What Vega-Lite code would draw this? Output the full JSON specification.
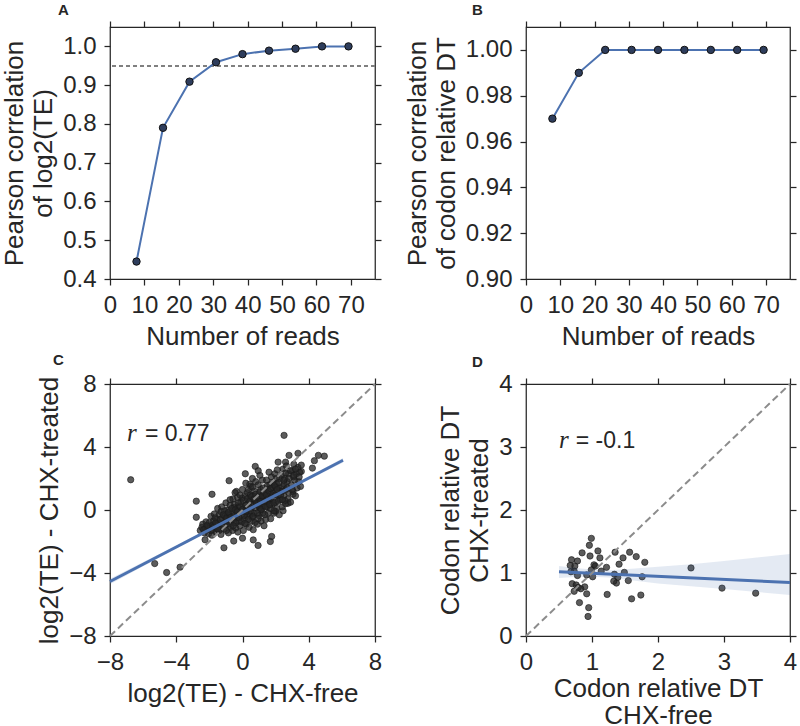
{
  "$schema": "https://vega.github.io/schema/vega-lite/v6.json",
  "background": "white",
  "padding": {"left": 1, "top": 2, "right": 2, "bottom": 0},
  "columns": 2,
  "spacing": {"row": 2, "column": 20},
  "config": {
    "font": "Liberation Sans",
    "view": {"stroke": "#262626", "strokeWidth": 1.25},
    "axis": {
      "grid": false, "domain": false,
      "tickSize": 6, "tickColor": "#262626", "tickWidth": 1.25,
      "labelFontSize": 24, "labelColor": "#262626", "labelFont": "Liberation Sans",
      "labelPadding": 8, "labelFlush": false, "labelOverlap": false, "labelBound": false,
      "titleFontSize": 26, "titleColor": "#262626", "titleFont": "Liberation Sans",
      "titleFontWeight": "normal", "titlePadding": 6, "titleLineHeight": 29
    },
    "title": {"fontSize": 15, "fontWeight": "bold", "anchor": "start", "frame": "group", "color": "#262626", "offset": 2, "font": "Liberation Sans"}
  },
  "datasets": {
    "a": [
      {"n": 7.7, "r": 0.445}, {"n": 15.4, "r": 0.79}, {"n": 23.1, "r": 0.909}, {"n": 30.8, "r": 0.959},
      {"n": 38.5, "r": 0.98}, {"n": 46.2, "r": 0.989}, {"n": 53.9, "r": 0.994}, {"n": 61.6, "r": 1.0}, {"n": 69.3, "r": 1.0}
    ],
    "b": [
      {"n": 7.7, "r": 0.97}, {"n": 15.4, "r": 0.99}, {"n": 23.1, "r": 1.0}, {"n": 30.8, "r": 1.0},
      {"n": 38.5, "r": 1.0}, {"n": 46.2, "r": 1.0}, {"n": 53.9, "r": 1.0}, {"n": 61.6, "r": 1.0}, {"n": 69.3, "r": 1.0}
    ],
    "c": [
      {"x": -6.75, "y": 1.92}, {"x": -5.3, "y": -3.4}, {"x": -4.58, "y": -3.97}, {"x": -3.77, "y": -3.63}, {"x": 2.51, "y": 4.74},
      {"x": -2.79, "y": 0.56}, {"x": -2.79, "y": -0.46}, {"x": -1.84, "y": 1.0}, {"x": -0.81, "y": 1.86}, {"x": -0.37, "y": 1.18},
      {"x": 0.17, "y": 2.3}, {"x": 0.77, "y": 2.77}, {"x": 0.95, "y": 2.49}, {"x": 0.44, "y": 1.64}, {"x": 2.75, "y": 0.43},
      {"x": -1.12, "y": -2.4}, {"x": 0.94, "y": -2.25}, {"x": 1.68, "y": -2.0}, {"x": 0.65, "y": -1.9}, {"x": -0.53, "y": -1.97},
      {"x": 0.0, "y": -1.79}, {"x": 1.76, "y": -1.68}, {"x": -2.26, "y": -1.89}, {"x": 4.34, "y": 3.13}, {"x": 4.58, "y": 3.47},
      {"x": 4.94, "y": 3.42}, {"x": 4.22, "y": 2.66}, {"x": 3.35, "y": 3.6}, {"x": 2.81, "y": 3.47}, {"x": 2.15, "y": 3.04},
      {"x": 2.6, "y": 3.04}, {"x": 3.55, "y": 2.45}, {"x": 3.05, "y": 1.18}, {"x": 2.45, "y": -0.05}, {"x": 2.0, "y": -0.09},
      {"x": -2.55, "y": -1.3}, {"x": -2.4, "y": -0.9}, {"x": -2.3, "y": -1.45}, {"x": -2.2, "y": -0.75}, {"x": -2.45, "y": -1.1}, {"x": -2.25, "y": -1.2},
      {"x": -2.05, "y": -1.5}, {"x": -1.95, "y": -1.0}, {"x": -1.9, "y": -0.4}, {"x": -1.8, "y": -1.25}, {"x": -1.75, "y": -0.7},
      {"x": -2.0, "y": -0.8}, {"x": -1.85, "y": -1.6}, {"x": -1.7, "y": -0.25}, {"x": -2.1, "y": -1.15}, {"x": -1.78, "y": -0.95},
      {"x": -1.6, "y": -1.4}, {"x": -1.55, "y": -0.6}, {"x": -1.5, "y": 0.1}, {"x": -1.45, "y": -1.1}, {"x": -1.4, "y": -0.3},
      {"x": -1.35, "y": -0.85}, {"x": -1.3, "y": -1.55}, {"x": -1.25, "y": 0.2}, {"x": -1.5, "y": -0.95}, {"x": -1.22, "y": -0.5},
      {"x": -1.42, "y": -1.3}, {"x": -1.3, "y": -0.1},
      {"x": -1.1, "y": -1.2}, {"x": -1.05, "y": -0.4}, {"x": -1.0, "y": 0.45}, {"x": -0.95, "y": -0.9}, {"x": -0.9, "y": 0.0},
      {"x": -0.85, "y": -1.45}, {"x": -0.8, "y": -0.6}, {"x": -0.75, "y": 0.3}, {"x": -0.72, "y": -1.1}, {"x": -1.08, "y": -0.05},
      {"x": -0.92, "y": -0.25}, {"x": -0.78, "y": -0.35}, {"x": -0.98, "y": -1.3},
      {"x": -0.6, "y": -1.3}, {"x": -0.58, "y": 0.7}, {"x": -0.55, "y": -0.2}, {"x": -0.5, "y": -0.8}, {"x": -0.48, "y": 0.35},
      {"x": -0.45, "y": 1.1}, {"x": -0.4, "y": -1.15}, {"x": -0.38, "y": 0.0}, {"x": -0.35, "y": -0.5}, {"x": -0.3, "y": 0.8},
      {"x": -0.28, "y": -1.4}, {"x": -0.25, "y": 0.2}, {"x": -0.22, "y": -0.7}, {"x": -0.52, "y": 0.15}, {"x": -0.33, "y": -0.25},
      {"x": -0.15, "y": -1.0}, {"x": -0.1, "y": 0.5}, {"x": -0.05, "y": -0.3}, {"x": 0.0, "y": 1.3}, {"x": 0.05, "y": -1.3},
      {"x": 0.08, "y": 0.1}, {"x": 0.12, "y": -0.6}, {"x": 0.15, "y": 0.9}, {"x": 0.18, "y": -0.15}, {"x": 0.2, "y": 1.7},
      {"x": 0.22, "y": -0.9}, {"x": 0.25, "y": 0.35}, {"x": 0.28, "y": -0.4}, {"x": 0.3, "y": 1.1}, {"x": -0.02, "y": 0.75}, {"x": 0.1, "y": -0.05},
      {"x": 0.4, "y": -1.1}, {"x": 0.42, "y": 0.6}, {"x": 0.45, "y": -0.3}, {"x": 0.5, "y": 1.5}, {"x": 0.52, "y": 0.1},
      {"x": 0.55, "y": -0.7}, {"x": 0.6, "y": 2.0}, {"x": 0.62, "y": 0.9}, {"x": 0.65, "y": -1.25}, {"x": 0.68, "y": 0.3},
      {"x": 0.7, "y": -0.2}, {"x": 0.72, "y": 1.2}, {"x": 0.75, "y": -0.8}, {"x": 0.78, "y": 0.55}, {"x": 0.8, "y": 1.8},
      {"x": 0.58, "y": -0.45}, {"x": 0.48, "y": 0.95},
      {"x": 0.9, "y": -0.9}, {"x": 0.92, "y": 0.4}, {"x": 0.95, "y": 1.6}, {"x": 0.98, "y": -0.35}, {"x": 1.0, "y": 0.9},
      {"x": 1.05, "y": 2.2}, {"x": 1.08, "y": 0.0}, {"x": 1.1, "y": 1.3}, {"x": 1.12, "y": -0.7}, {"x": 1.15, "y": 0.6},
      {"x": 1.2, "y": 1.9}, {"x": 1.22, "y": -0.2}, {"x": 1.25, "y": 1.0}, {"x": 1.28, "y": 0.25}, {"x": 1.3, "y": -1.0},
      {"x": 1.02, "y": 0.15}, {"x": 1.18, "y": 0.75},
      {"x": 1.4, "y": -0.6}, {"x": 1.42, "y": 0.8}, {"x": 1.45, "y": 1.9}, {"x": 1.5, "y": 0.2}, {"x": 1.52, "y": 1.3},
      {"x": 1.55, "y": -0.2}, {"x": 1.6, "y": 2.4}, {"x": 1.62, "y": 0.6}, {"x": 1.65, "y": 1.6}, {"x": 1.7, "y": -0.55},
      {"x": 1.72, "y": 1.0}, {"x": 1.75, "y": 2.1}, {"x": 1.78, "y": 0.35}, {"x": 1.8, "y": 1.45}, {"x": 1.48, "y": 0.55}, {"x": 1.68, "y": 0.1},
      {"x": 1.9, "y": -0.2}, {"x": 1.92, "y": 1.1}, {"x": 1.95, "y": 2.3}, {"x": 2.0, "y": 0.5}, {"x": 2.05, "y": 1.7},
      {"x": 2.08, "y": 0.1}, {"x": 2.1, "y": 2.55}, {"x": 2.15, "y": 0.9}, {"x": 2.2, "y": 1.4}, {"x": 2.22, "y": -0.3},
      {"x": 2.25, "y": 2.0}, {"x": 2.28, "y": 0.65}, {"x": 2.3, "y": 1.2}, {"x": 1.98, "y": 1.45},
      {"x": 2.4, "y": 0.2}, {"x": 2.42, "y": 1.5}, {"x": 2.45, "y": 2.6}, {"x": 2.5, "y": 0.9}, {"x": 2.55, "y": 2.0},
      {"x": 2.6, "y": 0.4}, {"x": 2.62, "y": 1.3}, {"x": 2.65, "y": 2.8}, {"x": 2.7, "y": 1.8}, {"x": 2.75, "y": 0.7},
      {"x": 2.78, "y": 2.3}, {"x": 2.8, "y": 1.1}, {"x": 2.52, "y": 1.65},
      {"x": 2.9, "y": 0.5}, {"x": 2.95, "y": 1.6}, {"x": 3.0, "y": 2.5}, {"x": 3.05, "y": 1.0}, {"x": 3.1, "y": 2.9},
      {"x": 3.15, "y": 1.9}, {"x": 3.2, "y": 0.9}, {"x": 3.25, "y": 2.3}, {"x": 3.3, "y": 1.4}, {"x": 3.08, "y": 2.1},
      {"x": 3.35, "y": 2.7}, {"x": 3.4, "y": 1.8}, {"x": 3.45, "y": 2.4}, {"x": 3.5, "y": 1.5}, {"x": 3.55, "y": 2.85}, {"x": 3.42, "y": 2.1},
      {"x": -1.9, "y": -1.3}, {"x": -1.7, "y": -1.05}, {"x": -1.6, "y": -0.8}, {"x": -1.5, "y": -1.2}, {"x": -1.35, "y": -0.6},
      {"x": -1.2, "y": -0.9}, {"x": -1.15, "y": -0.3}, {"x": -1.0, "y": -0.75}, {"x": -0.95, "y": -0.5}, {"x": -0.85, "y": -0.15},
      {"x": -0.8, "y": -0.9}, {"x": -0.7, "y": -0.45}, {"x": -0.65, "y": 0.1}, {"x": -0.6, "y": -0.6}, {"x": -0.5, "y": -0.35},
      {"x": -0.45, "y": 0.0}, {"x": -0.4, "y": -0.8}, {"x": -0.3, "y": -0.1}, {"x": -0.25, "y": 0.45}, {"x": -0.2, "y": -0.5},
      {"x": -0.12, "y": 0.2}, {"x": -0.05, "y": -0.75}, {"x": 0.0, "y": 0.05}, {"x": 0.05, "y": 0.6}, {"x": 0.1, "y": -0.35},
      {"x": 0.2, "y": 0.3}, {"x": 0.25, "y": -0.1}, {"x": 0.3, "y": 0.7}, {"x": 0.35, "y": -0.6}, {"x": 0.4, "y": 0.2},
      {"x": 0.45, "y": 0.55}, {"x": 0.5, "y": -0.05}, {"x": 0.55, "y": 0.85}, {"x": 0.6, "y": 0.35}, {"x": 0.65, "y": -0.4},
      {"x": 0.7, "y": 0.7}, {"x": 0.75, "y": 0.15}, {"x": 0.8, "y": 1.0}, {"x": 0.85, "y": 0.45}, {"x": 0.9, "y": -0.2},
      {"x": 0.95, "y": 0.8}, {"x": 1.0, "y": 0.3}, {"x": 1.05, "y": 1.15}, {"x": 1.1, "y": 0.55}, {"x": 1.15, "y": 0.05},
      {"x": 1.2, "y": 0.9}, {"x": 1.25, "y": 1.4}, {"x": 1.3, "y": 0.5}, {"x": 1.35, "y": 1.1}, {"x": 1.4, "y": 0.2},
      {"x": 1.45, "y": 0.95}, {"x": 1.5, "y": 1.55}, {"x": 1.55, "y": 0.7}, {"x": 1.6, "y": 1.2}, {"x": 1.65, "y": 0.35},
      {"x": 1.7, "y": 1.35}, {"x": 1.75, "y": 0.8}, {"x": 1.8, "y": 1.75}, {"x": 1.85, "y": 1.05}, {"x": 1.9, "y": 0.45},
      {"x": 1.95, "y": 1.55}, {"x": 2.0, "y": 0.95}, {"x": 2.05, "y": 2.0}, {"x": 2.1, "y": 1.3}, {"x": 2.15, "y": 0.55},
      {"x": 2.2, "y": 1.75}, {"x": 2.3, "y": 0.95}, {"x": 2.35, "y": 2.2}, {"x": 2.4, "y": 1.2}, {"x": 2.5, "y": 1.9},
      {"x": 2.55, "y": 0.6}, {"x": 2.6, "y": 2.35}, {"x": 2.7, "y": 1.4}, {"x": 2.8, "y": 2.0}, {"x": 2.9, "y": 2.5},
      {"x": 3.0, "y": 1.3}, {"x": 3.1, "y": 2.2}, {"x": 3.2, "y": 2.6}, {"x": -2.15, "y": -1.0}, {"x": -2.35, "y": -1.25},
      {"x": -1.65, "y": -0.5}, {"x": -0.55, "y": -1.0}, {"x": 0.15, "y": -0.85}, {"x": 0.35, "y": 1.3}, {"x": 0.95, "y": -0.55},
      {"x": 1.35, "y": -0.3}, {"x": 1.9, "y": -0.05}, {"x": 2.4, "y": 0.65}, {"x": 0.6, "y": 1.45}, {"x": -0.15, "y": 0.95},
      {"x": -0.75, "y": 0.65}
    ],
    "cline": [{"x": -8, "y": -4.54}, {"x": 6.07, "y": 3.16}],
    "cband": [
      {"x": -8, "lo": -4.72, "hi": -4.36}, {"x": -4, "lo": -2.43, "hi": -2.25}, {"x": 0, "lo": -0.22, "hi": -0.1},
      {"x": 3, "lo": 1.4, "hi": 1.54}, {"x": 6.07, "lo": 3.02, "hi": 3.3}
    ],
    "diagc": [{"x": -8, "y": -8}, {"x": 8, "y": 8}],
    "d": [
      {"x": 0.99, "y": 1.55}, {"x": 0.96, "y": 1.44}, {"x": 0.85, "y": 1.32}, {"x": 0.97, "y": 1.27}, {"x": 1.09, "y": 1.35},
      {"x": 1.12, "y": 1.24}, {"x": 1.35, "y": 1.33}, {"x": 1.57, "y": 1.33}, {"x": 1.67, "y": 1.26}, {"x": 1.47, "y": 1.24},
      {"x": 1.41, "y": 1.14}, {"x": 1.8, "y": 1.17}, {"x": 0.69, "y": 1.21}, {"x": 0.78, "y": 1.19}, {"x": 0.74, "y": 1.11},
      {"x": 0.67, "y": 1.12}, {"x": 1.03, "y": 1.13}, {"x": 1.05, "y": 1.11}, {"x": 1.22, "y": 1.09}, {"x": 1.14, "y": 1.03},
      {"x": 0.99, "y": 1.05}, {"x": 0.73, "y": 1.03}, {"x": 0.68, "y": 1.02}, {"x": 0.78, "y": 0.96}, {"x": 0.92, "y": 0.97},
      {"x": 1.01, "y": 0.94}, {"x": 1.34, "y": 0.98}, {"x": 1.49, "y": 1.01}, {"x": 1.39, "y": 0.93}, {"x": 1.37, "y": 0.84},
      {"x": 1.33, "y": 0.87}, {"x": 1.55, "y": 0.88}, {"x": 1.76, "y": 0.94}, {"x": 0.7, "y": 0.83}, {"x": 0.76, "y": 0.81},
      {"x": 0.89, "y": 0.78}, {"x": 0.79, "y": 0.77}, {"x": 0.83, "y": 0.75}, {"x": 0.73, "y": 0.71}, {"x": 0.92, "y": 0.67},
      {"x": 1.23, "y": 0.66}, {"x": 1.6, "y": 0.59}, {"x": 1.74, "y": 0.65}, {"x": 0.81, "y": 0.53}, {"x": 0.95, "y": 0.45},
      {"x": 0.94, "y": 0.31}, {"x": 2.5, "y": 1.08}, {"x": 2.97, "y": 0.76}, {"x": 3.48, "y": 0.68}
    ],
    "dline": [{"x": 0.5, "y": 1.02}, {"x": 4.0, "y": 0.85}],
    "dband": [
      {"x": 0.5, "lo": 0.92, "hi": 1.11}, {"x": 0.75, "lo": 0.935, "hi": 1.08}, {"x": 1.0, "lo": 0.94, "hi": 1.055},
      {"x": 1.25, "lo": 0.93, "hi": 1.045}, {"x": 1.5, "lo": 0.895, "hi": 1.06}, {"x": 2.0, "lo": 0.835, "hi": 1.1},
      {"x": 2.5, "lo": 0.79, "hi": 1.14}, {"x": 3.0, "lo": 0.745, "hi": 1.19}, {"x": 3.5, "lo": 0.7, "hi": 1.245},
      {"x": 4.0, "lo": 0.65, "hi": 1.3}
    ],
    "diagd": [{"x": 0, "y": 0}, {"x": 4, "y": 4}]
  },
  "concat": [
    {
      "title": {"text": "A", "dx": -52},
      "width": 265, "height": 252,
      "resolve": {"axis": {"x": "independent", "y": "independent"}},
      "layer": [
        {
          "data": {"name": "a"},
          "mark": {"type": "rule", "color": "#808080", "strokeDash": [4, 3], "strokeWidth": 1.4},
          "encoding": {"y": {"datum": 0.95, "type": "quantitative", "axis": null}}
        },
        {
          "data": {"name": "a"},
          "mark": {"type": "line", "color": "#4C72B0", "strokeWidth": 2},
          "encoding": {
            "x": {"field": "n", "type": "quantitative", "scale": {"domain": [0, 77], "nice": false, "zero": false},
                  "axis": {"orient": "top", "labels": false, "title": null, "values": [0, 10, 20, 30, 40, 50, 60, 70]}},
            "y": {"field": "r", "type": "quantitative", "scale": {"domain": [0.4, 1.05], "nice": false, "zero": false},
                  "axis": {"orient": "right", "labels": false, "title": null, "values": [0.4, 0.5, 0.6, 0.7, 0.8, 0.9, 1.0]}}
          }
        },
        {
          "data": {"name": "a"},
          "mark": {"type": "circle", "size": 55, "fill": "#2e3d5c", "stroke": "#111111", "strokeWidth": 1, "opacity": 1},
          "encoding": {
            "x": {"field": "n", "type": "quantitative", "axis": {"orient": "bottom", "title": "Number of reads", "values": [0, 10, 20, 30, 40, 50, 60, 70]}},
            "y": {"field": "r", "type": "quantitative", "axis": {"orient": "left", "title": ["Pearson correlation", "of log2(TE)"], "values": [0.4, 0.5, 0.6, 0.7, 0.8, 0.9, 1.0], "format": ".1f"}}
          }
        }
      ]
    },
    {
      "title": {"text": "B", "dx": -54},
      "width": 264, "height": 252,
      "resolve": {"axis": {"x": "independent", "y": "independent"}},
      "layer": [
        {
          "data": {"name": "b"},
          "mark": {"type": "line", "color": "#4C72B0", "strokeWidth": 2},
          "encoding": {
            "x": {"field": "n", "type": "quantitative", "scale": {"domain": [0, 77], "nice": false, "zero": false},
                  "axis": {"orient": "top", "labels": false, "title": null, "values": [0, 10, 20, 30, 40, 50, 60, 70]}},
            "y": {"field": "r", "type": "quantitative", "scale": {"domain": [0.9, 1.01], "nice": false, "zero": false},
                  "axis": {"orient": "right", "labels": false, "title": null, "values": [0.9, 0.92, 0.94, 0.96, 0.98, 1.0]}}
          }
        },
        {
          "data": {"name": "b"},
          "mark": {"type": "circle", "size": 55, "fill": "#2e3d5c", "stroke": "#111111", "strokeWidth": 1, "opacity": 1},
          "encoding": {
            "x": {"field": "n", "type": "quantitative", "axis": {"orient": "bottom", "title": "Number of reads", "values": [0, 10, 20, 30, 40, 50, 60, 70]}},
            "y": {"field": "r", "type": "quantitative", "axis": {"orient": "left", "title": ["Pearson correlation", "of codon relative DT"], "values": [0.9, 0.92, 0.94, 0.96, 0.98, 1.0], "format": ".2f"}}
          }
        }
      ]
    },
    {
      "title": {"text": "C", "dx": -57, "offset": 4},
      "width": 265, "height": 252,
      "resolve": {"axis": {"x": "independent", "y": "independent"}},
      "layer": [
        {
          "data": {"name": "c"},
          "mark": {"type": "circle", "size": 40, "fill": "#262626", "fillOpacity": 0.75, "stroke": "#1a1a1a", "strokeOpacity": 0.8, "strokeWidth": 0.8},
          "encoding": {
            "x": {"field": "x", "type": "quantitative", "scale": {"domain": [-8, 8], "nice": false},
                  "axis": {"orient": "bottom", "title": "log2(TE) - CHX-free", "values": [-8, -4, 0, 4, 8]}},
            "y": {"field": "y", "type": "quantitative", "scale": {"domain": [-8, 8], "nice": false},
                  "axis": {"orient": "left", "title": "log2(TE) - CHX-treated", "values": [-8, -4, 0, 4, 8]}}
          }
        },
        {
          "data": {"name": "cband"},
          "mark": {"type": "area", "color": "#4C72B0", "opacity": 0.18},
          "encoding": {
            "x": {"field": "x", "type": "quantitative", "axis": null},
            "y": {"field": "lo", "type": "quantitative", "axis": null},
            "y2": {"field": "hi"}
          }
        },
        {
          "data": {"name": "cline"},
          "mark": {"type": "line", "color": "#4C72B0", "strokeWidth": 3},
          "encoding": {
            "x": {"field": "x", "type": "quantitative", "axis": null},
            "y": {"field": "y", "type": "quantitative", "axis": null}
          }
        },
        {
          "data": {"name": "diagc"},
          "mark": {"type": "line", "color": "#8c8c8c", "strokeWidth": 2, "strokeDash": [7, 4]},
          "encoding": {
            "x": {"field": "x", "type": "quantitative", "axis": {"orient": "top", "labels": false, "title": null, "values": [-8, -4, 0, 4, 8]}},
            "y": {"field": "y", "type": "quantitative", "axis": {"orient": "right", "labels": false, "title": null, "values": [-8, -4, 0, 4, 8]}}
          }
        },
        {
          "data": {"values": [{"t": "r"}]},
          "mark": {"type": "text", "font": "Liberation Serif", "fontStyle": "italic", "fontSize": 25, "align": "left", "baseline": "alphabetic", "color": "#262626"},
          "encoding": {
            "x": {"datum": -6.97, "type": "quantitative", "axis": null},
            "y": {"datum": 4.36, "type": "quantitative", "axis": null},
            "text": {"field": "t"}
          }
        },
        {
          "data": {"values": [{"t": "= 0.77"}]},
          "mark": {"type": "text", "fontSize": 23, "align": "left", "baseline": "alphabetic", "color": "#262626"},
          "encoding": {
            "x": {"datum": -5.89, "type": "quantitative", "axis": null},
            "y": {"datum": 4.36, "type": "quantitative", "axis": null},
            "text": {"field": "t"}
          }
        }
      ]
    },
    {
      "title": {"text": "D", "dx": -54},
      "width": 264, "height": 252,
      "resolve": {"axis": {"x": "independent", "y": "independent"}},
      "layer": [
        {
          "data": {"name": "d"},
          "mark": {"type": "circle", "size": 40, "fill": "#262626", "fillOpacity": 0.75, "stroke": "#1a1a1a", "strokeOpacity": 0.8, "strokeWidth": 0.8},
          "encoding": {
            "x": {"field": "x", "type": "quantitative", "scale": {"domain": [0, 4], "nice": false},
                  "axis": {"orient": "bottom", "title": ["Codon relative DT", "CHX-free"], "titlePadding": 1, "titleLineHeight": 27, "values": [0, 1, 2, 3, 4]}},
            "y": {"field": "y", "type": "quantitative", "scale": {"domain": [0, 4], "nice": false},
                  "axis": {"orient": "left", "title": ["Codon relative DT", "CHX-treated"], "values": [0, 1, 2, 3, 4]}}
          }
        },
        {
          "data": {"name": "dband"},
          "mark": {"type": "area", "color": "#4C72B0", "opacity": 0.15},
          "encoding": {
            "x": {"field": "x", "type": "quantitative", "axis": null},
            "y": {"field": "lo", "type": "quantitative", "axis": null},
            "y2": {"field": "hi"}
          }
        },
        {
          "data": {"name": "dline"},
          "mark": {"type": "line", "color": "#4C72B0", "strokeWidth": 3},
          "encoding": {
            "x": {"field": "x", "type": "quantitative", "axis": null},
            "y": {"field": "y", "type": "quantitative", "axis": null}
          }
        },
        {
          "data": {"name": "diagd"},
          "mark": {"type": "line", "color": "#8c8c8c", "strokeWidth": 2, "strokeDash": [7, 4]},
          "encoding": {
            "x": {"field": "x", "type": "quantitative", "axis": {"orient": "top", "labels": false, "title": null, "values": [0, 1, 2, 3, 4]}},
            "y": {"field": "y", "type": "quantitative", "axis": {"orient": "right", "labels": false, "title": null, "values": [0, 1, 2, 3, 4]}}
          }
        },
        {
          "data": {"values": [{"t": "r"}]},
          "mark": {"type": "text", "font": "Liberation Serif", "fontStyle": "italic", "fontSize": 25, "align": "left", "baseline": "alphabetic", "color": "#262626"},
          "encoding": {
            "x": {"datum": 0.5, "type": "quantitative", "axis": null},
            "y": {"datum": 2.98, "type": "quantitative", "axis": null},
            "text": {"field": "t"}
          }
        },
        {
          "data": {"values": [{"t": "= -0.1"}]},
          "mark": {"type": "text", "fontSize": 23, "align": "left", "baseline": "alphabetic", "color": "#262626"},
          "encoding": {
            "x": {"datum": 0.754, "type": "quantitative", "axis": null},
            "y": {"datum": 2.98, "type": "quantitative", "axis": null},
            "text": {"field": "t"}
          }
        }
      ]
    }
  ]
}
